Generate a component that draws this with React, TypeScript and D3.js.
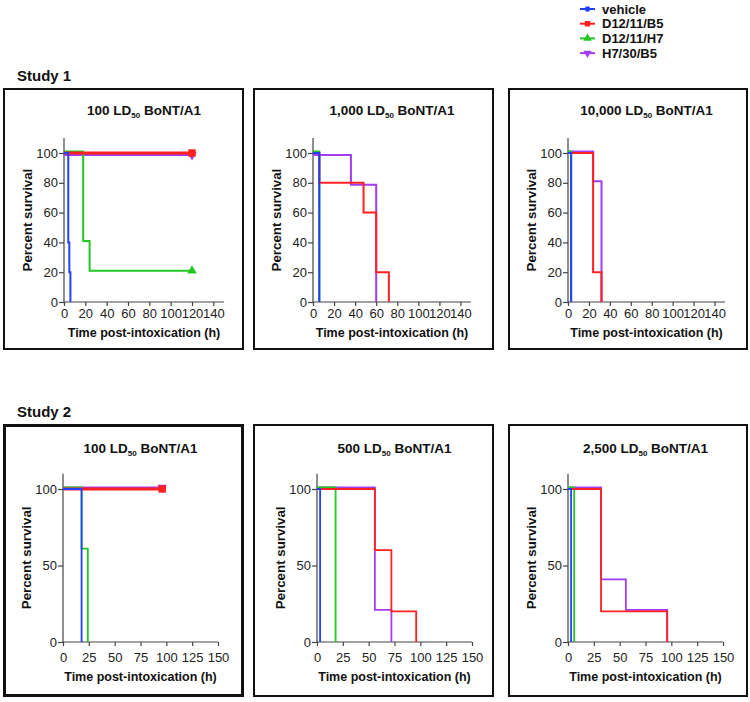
import * as d3 from "d3";
import { useEffect, useRef } from "react";

// series, in legend order
const seriesNames = ["vehicle", "D12/11/B5", "D12/11/H7", "H7/30/B5"];
const seriesColors = ["#2440ff", "#ff2020", "#22c722", "#a23cf5"];

const study1Doses = ["100", "1,000", "10,000"];
const study2Doses = ["100", "500", "2,500"];

// Kaplan-Meier steps, [time (h), % survival], one list per series
const s1Dose100 = [
  [[0, 100], [4, 40], [5, 20], [6, 0]],
  [[0, 100], [120, 100]],
  [[0, 100], [18, 40], [24, 20], [120, 20]],
  [[0, 100], [120, 100]],
];
const s1Dose1000 = [
  [[0, 100], [6, 0]],
  [[0, 100], [6, 80], [48, 60], [60, 20], [72, 0]],
  [[0, 100], [6, 0]],
  [[0, 100], [36, 80], [60, 0]],
];
const s1Dose10000 = [
  [[0, 100], [3, 0]],
  [[0, 100], [24, 20], [32, 0]],
  [[0, 100], [3, 0]],
  [[0, 100], [24, 80], [32, 0]],
];
const s2Dose100 = [
  [[0, 100], [18, 0]],
  [[0, 100], [96, 100]],
  [[0, 100], [18, 60], [24, 0]],
  [[0, 100], [96, 100]],
];
const s2Dose500 = [
  [[0, 100], [3, 0]],
  [[0, 100], [56, 60], [72, 20], [96, 0]],
  [[0, 100], [18, 0]],
  [[0, 100], [56, 20], [72, 0]],
];
const s2Dose2500 = [
  [[0, 100], [3, 0]],
  [[0, 100], [32, 20], [96, 0]],
  [[0, 100], [6, 0]],
  [[0, 100], [32, 40], [56, 20], [96, 0]],
];

const study1XTicks = [0, 20, 40, 60, 80, 100, 120, 140];
const study2XTicks = [0, 25, 50, 75, 100, 125, 150];
const study1YTicks = [0, 20, 40, 60, 80, 100];
const study2YTicks = [0, 50, 100];

const FONT = "'Liberation Sans', Arial, Helvetica, sans-serif";

// page layout of the two rows and three columns
const rows = [
  { label: "Study 1", labelY: 76, top: 88, bottom: 350, y0: 302, y100: 153, tickDy: 16, titleY: 115, axisTitleY: 337,
    doses: study1Doses, data: [s1Dose100, s1Dose1000, s1Dose10000], xTicks: study1XTicks, yTicks: study1YTicks,
    xr: [[64, 224], [313, 471], [568, 725]], purpleShift: [2, 2, -1.5], lw: 2, border: [2, 2, 2] },
  { label: "Study 2", labelY: 412, top: 424, bottom: 697, y0: 642, y100: 489, tickDy: 20, titleY: 453, axisTitleY: 681,
    doses: study2Doses, data: [s2Dose100, s2Dose500, s2Dose2500], xTicks: study2XTicks, yTicks: study2YTicks,
    xr: [[63, 218], [317, 472], [568, 723]], purpleShift: [-1.5, -1.5, -1.5], lw: 1.8, border: [3, 2, 2] },
];
const boxX = [[3, 244], [253, 494], [508, 748]];

const App = () => {
  const ref = useRef(null);

  useEffect(() => {
    const svg = d3.select(ref.current);
    svg.selectAll("*").remove();

    const symbolPath = (i, size) => {
      const type = i === 0 ? d3.symbolCircle : i === 1 ? d3.symbolSquare : d3.symbolTriangle;
      return d3.symbol(type, size)();
    };

    // legend
    seriesNames.forEach((name, i) => {
      const y = 9 + i * 14.7;
      const g = svg.append("g").attr("transform", `translate(580, ${y})`);
      g.append("line").attr("x1", 0).attr("x2", 15).attr("y1", 0).attr("y2", 0)
        .attr("stroke", seriesColors[i]).attr("stroke-width", 2);
      g.append("path").attr("d", symbolPath(i, i === 0 ? 22 : 30))
        .attr("transform", `translate(7.5,0) rotate(${i === 3 ? 180 : 0})`)
        .attr("fill", seriesColors[i]);
      g.append("text").attr("x", 22).attr("y", 4.5).text(name)
        .attr("font-family", FONT).attr("font-weight", "bold").attr("font-size", 13).attr("fill", "#111");
    });

    rows.forEach((row) => {
      svg.append("text").attr("x", 17).attr("y", row.labelY + 5).text(row.label)
        .attr("font-family", FONT).attr("font-weight", "bold").attr("font-size", 15).attr("fill", "#111");

      row.data.forEach((panel, p) => {
        const [bx0, bx1] = boxX[p];
        const bw = row.border[p];
        svg.append("rect").attr("x", bx0 + bw / 2).attr("y", row.top + bw / 2)
          .attr("width", bx1 - bx0 - bw).attr("height", row.bottom - row.top - bw)
          .attr("fill", "none").attr("stroke", "#111").attr("stroke-width", bw);

        const x = d3.scaleLinear().domain([0, 150]).range(row.xr[p]);
        const y = d3.scaleLinear().domain([0, 100]).range([row.y0, row.y100]);
        const cx = (row.xr[p][0] + row.xr[p][1]) / 2;

        // title with subscript
        const title = svg.append("text").attr("x", cx).attr("y", row.titleY).attr("text-anchor", "middle")
          .attr("font-family", FONT).attr("font-weight", "bold").attr("font-size", 13.5).attr("fill", "#111");
        title.append("tspan").text(`${row.doses[p]} LD`);
        title.append("tspan").text("50").attr("font-size", 8).attr("dy", 3);
        title.append("tspan").text(" BoNT/A1").attr("dy", -3);

        // axes
        const xAxis = svg.append("g").attr("transform", `translate(0, ${row.y0})`)
          .call(d3.axisBottom(x).tickValues(row.xTicks).tickSize(4).tickSizeOuter(0));
        xAxis.select(".domain").attr("d", `M${x(0)},0H${x(150)}`);
        const yAxis = svg.append("g").attr("transform", `translate(${x(0)}, 0)`)
          .call(d3.axisLeft(y).tickValues(row.yTicks).tickSize(5).tickPadding(1).tickSizeOuter(0));
        yAxis.select(".domain").attr("d", `M0,${y(0)}V${y(110)}`);
        [xAxis, yAxis].forEach((a) => {
          a.selectAll(".domain, line").attr("stroke", "#444").attr("stroke-width", 1.2);
          a.selectAll("text").attr("font-family", FONT).attr("font-size", 13).attr("fill", "#222");
        });
        xAxis.selectAll("text").attr("y", row.tickDy).attr("dy", 0);

        svg.append("text").attr("x", cx).attr("y", row.axisTitleY).attr("text-anchor", "middle")
          .text("Time post-intoxication (h)")
          .attr("font-family", FONT).attr("font-weight", "bold").attr("font-size", 12.5).attr("fill", "#111");
        const ym = (y(0) + y(110)) / 2;
        svg.append("text").attr("transform", `translate(${x(0) - 37}, ${ym}) rotate(-90)`)
          .attr("text-anchor", "middle").attr("dy", 4.5).text("Percent survival")
          .attr("font-family", FONT).attr("font-weight", "bold").attr("font-size", 13.3).attr("fill", "#111");

        // survival curves: purple, green, red, blue on top
        const shifts = [0, 0, -1.5, row.purpleShift[p]];
        [3, 2, 1, 0].forEach((s) => {
          const pts = panel[s];
          const line = d3.line()
            .x((d) => x(d[0]))
            .y((d) => y(d[1]) + (d[1] > 0 ? shifts[s] : 0))
            .curve(d3.curveStepAfter);
          svg.append("path").attr("d", line(pts)).attr("fill", "none")
            .attr("stroke", seriesColors[s]).attr("stroke-width", s === 1 && p === 0 ? row.lw + 1 : row.lw)
            .attr("stroke-linejoin", "miter");
          const last = pts[pts.length - 1];
          if (last[1] > 0) {
            svg.append("path").attr("d", symbolPath(s, s === 1 ? 55 : 40))
              .attr("transform", `translate(${x(last[0])}, ${y(last[1]) + shifts[s]}) rotate(${s === 3 ? 180 : 0})`)
              .attr("fill", seriesColors[s]);
          }
        });
      });
    });
  }, []);

  return (
    <svg ref={ref} width={750} height={702}
      style={{ position: "absolute", left: 0, top: 0, background: "#fff" }} />
  );
};

export default App;
